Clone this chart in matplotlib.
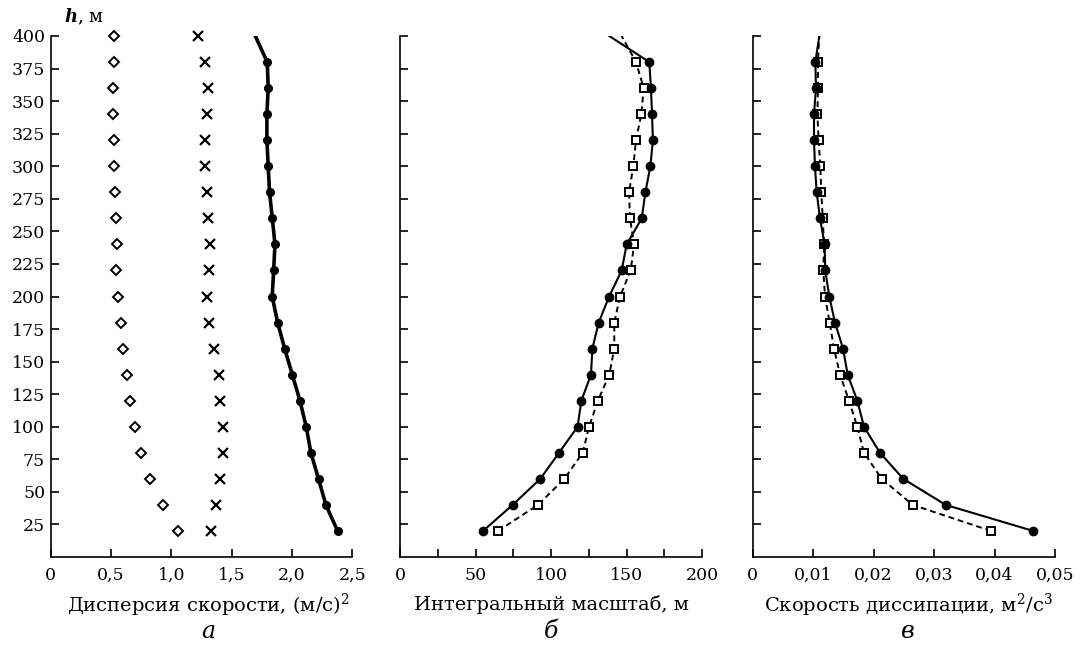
import matplotlib
matplotlib.use("Agg")
import matplotlib.pyplot as plt

plt.rcParams['font.family'] = ['DejaVu Serif']
plt.rcParams['mathtext.fontset'] = 'dejavuserif'

# heights, m
heights = [20, 40, 60, 80, 100, 120, 140, 160, 180, 200,
           220, 240, 260, 280, 300, 320, 340, 360, 380, 400]

# Panel a: velocity variance components, (m/s)^2
var_diamond = [1.055, 0.927, 0.825, 0.745, 0.701, 0.659, 0.629, 0.599, 0.579, 0.554,
               0.543, 0.546, 0.543, 0.535, 0.524, 0.524, 0.516, 0.516, 0.527, 0.521]
var_cross = [1.331, 1.370, 1.405, 1.425, 1.425, 1.403, 1.394, 1.355, 1.314, 1.292,
             1.311, 1.322, 1.300, 1.292, 1.281, 1.281, 1.292, 1.300, 1.281, 1.217]
var_total = [2.378, 2.281, 2.220, 2.157, 2.118, 2.066, 2.003, 1.939, 1.881, 1.836,
             1.848, 1.859, 1.837, 1.814, 1.803, 1.792, 1.792, 1.803, 1.795, 1.696]

# Panel б: integral scale, m
scale_solid = [55.0, 74.6, 92.9, 105.3, 117.6, 120.1, 126.5, 127.4, 131.6, 138.5,
               146.8, 150.1, 160.1, 162.5, 165.8, 167.5, 166.9, 166.2, 165.1, 138.6]
scale_dashed = [64.9, 91.4, 108.8, 121.0, 125.2, 131.1, 138.6, 141.9, 141.9, 145.7,
                152.8, 155.0, 152.3, 151.7, 154.5, 156.3, 159.8, 161.4, 156.3, 146.8]

# Panel в: dissipation rate, m^2/s^3
diss_solid = [0.04641, 0.03192, 0.02491, 0.02105, 0.01841, 0.01730, 0.01571, 0.01494, 0.01361, 0.01267,
              0.01200, 0.01190, 0.01113, 0.01058, 0.01030, 0.01014, 0.01014, 0.01047, 0.01036, 0.01102]
diss_dashed = [0.03941, 0.02646, 0.02134, 0.01841, 0.01730, 0.01593, 0.01444, 0.01345, 0.01273, 0.01196,
               0.01168, 0.01180, 0.01158, 0.01135, 0.01118, 0.01090, 0.01070, 0.01080, 0.01080, 0.01100]

yticks = list(range(25, 401, 25))
xticks_a = [0, 0.5, 1.0, 1.5, 2.0, 2.5]
xlabels_a = ['0', '0,5', '1,0', '1,5', '2,0', '2,5']
xticks_b = list(range(0, 201, 25))
xlabels_b = ['0', '', '50', '', '100', '', '150', '', '200']
xticks_c = [0, 0.01, 0.02, 0.03, 0.04, 0.05]
xlabels_c = ['0', '0,01', '0,02', '0,03', '0,04', '0,05']

xtitles = ['Дисперсия скорости, (м/с)$^2$', 'Интегральный масштаб, м',
           'Скорость диссипации, м$^2$/с$^3$']
letters = ['а', 'б', 'в']

fig = plt.figure(figsize=(10.83, 6.46), dpi=100)
W, H = 1083, 646
lefts = [50.7, 400.0, 752.7]
rights = [352.3, 702.0, 1055.0]
title_cx = [208, 551, 908]
top_px, bot_px = 36.0, 557.0
axes = []
for l, r in zip(lefts, rights):
    ax = fig.add_axes([l / W, 1 - bot_px / H, (r - l) / W, (bot_px - top_px) / H])
    axes.append(ax)

for ax in axes:
    for s in ['top', 'right']:
        ax.spines[s].set_visible(False)
    for s in ['left', 'bottom']:
        ax.spines[s].set_linewidth(1.2)
    ax.set_ylim(0, 400)
    ax.set_yticks(yticks)
    ax.tick_params(direction='in', length=6, width=1.2, labelsize=12.5)
    ax.tick_params(axis='x', pad=7)
    ax.tick_params(axis='y', pad=4)

axa, axb, axc = axes
nmark = slice(0, len(heights) - 1)

# panel a
axa.plot(var_diamond, heights, linestyle='none', marker='D', markersize=5,
         markerfacecolor='white', markeredgecolor='black', markeredgewidth=1.4, clip_on=False)
axa.plot(var_cross, heights, linestyle='none', marker='x', markersize=7,
         color='black', markeredgewidth=1.6, clip_on=False)
axa.plot(var_total, heights, color='black', linewidth=2.6, marker='o', markersize=5.5,
         markevery=nmark)
axa.set_xlim(0, 2.5)
axa.set_xticks(xticks_a)
axa.set_xticklabels(xlabels_a)
axa.set_yticklabels([str(v) for v in yticks])

# panel б
axb.plot(scale_dashed, heights, color='black', linewidth=1.4, linestyle=(0, (3, 2)),
         marker='s', markersize=5.3, markerfacecolor='white', markeredgecolor='black',
         markeredgewidth=1.4, markevery=nmark)
axb.plot(scale_solid, heights, color='black', linewidth=1.5, marker='o', markersize=6,
         markevery=nmark)
axb.set_xlim(0, 200)
axb.set_xticks(xticks_b)
axb.set_xticklabels(xlabels_b)
axb.set_yticklabels([])

# panel в
axc.plot(diss_dashed, heights, color='black', linewidth=1.4, linestyle=(0, (3, 2)),
         marker='s', markersize=5.3, markerfacecolor='white', markeredgecolor='black',
         markeredgewidth=1.4, markevery=nmark)
axc.plot(diss_solid, heights, color='black', linewidth=1.5, marker='o', markersize=6,
         markevery=nmark)
axc.set_xlim(0, 0.05)
axc.set_xticks(xticks_c)
axc.set_xticklabels(xlabels_c)
axc.set_yticklabels([])

for t, let, cx in zip(xtitles, letters, title_cx):
    fig.text(cx / W, 1 - 605 / H, t, ha='center', va='center', fontsize=14)
    fig.text(cx / W, 1 - 631 / H, let, ha='center', va='center', fontsize=17, style='italic')

fig.text(64 / W, 1 - 17 / H, '$\\boldsymbol{h}$, м', ha='left', va='center', fontsize=13)

fig.savefig('out.png', dpi=100)
